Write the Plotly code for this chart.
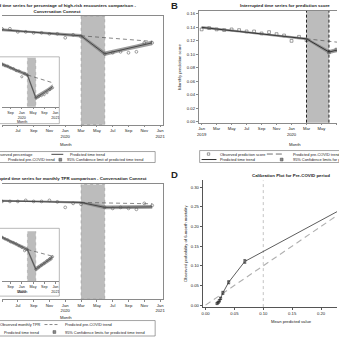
import plotly.graph_objects as go

W = H = 339
FONT = "Liberation Sans"
TXT = "#222222"
FRAME = "#8a8a8a"

# ---------------- data ----------------
# month index: 0 = Jan 2019 ... 23 = Dec 2020
obs_months = list(range(0, 15)) + [17, 18, 19, 20, 21, 22, 23]
pre_months = list(range(0, 15))
post_months = [14, 17, 18, 19, 20, 21, 22, 23]
cf_months = list(range(14, 24))

# A: percentage of high-risk encounters (%)
a_obs = [10.90, 10.70, 10.80, 10.60, 10.67, 10.67, 10.33, 10.33, 10.22, 10.22, 10.11,
         10.11, 9.67, 10.00, 9.78, 7.89, 8.00, 8.11, 8.00, 8.11, 9.11, 9.11]
a_pre_trend = [10.83, 10.76, 10.70, 10.63, 10.56, 10.50, 10.43, 10.36, 10.29, 10.23,
               10.16, 10.09, 10.02, 9.96, 9.89]
a_post_trend = [9.89, 7.89, 8.09, 8.30, 8.50, 8.70, 8.91, 9.11]
a_pre_ci = [0.22, 0.20, 0.18, 0.16, 0.15, 0.14, 0.13, 0.13, 0.13, 0.13, 0.14, 0.15,
            0.16, 0.18, 0.20]
a_post_ci = [0.20, 0.26, 0.24, 0.22, 0.21, 0.22, 0.24, 0.26]
a_cf = [9.89, 9.82, 9.75, 9.68, 9.61, 9.54, 9.47, 9.41, 9.34, 9.27]

# A inset: comparison group (%)
ai_obs = [11.00, 10.85, 10.82, 10.66, 10.62, 10.43, 10.35, 10.32, 10.18, 10.12, 9.95,
          9.93, 9.45, 9.72, 9.58, 7.73, 7.82, 7.90, 7.98, 8.14, 8.39, 8.55]
ai_pre_trend = [10.99, 10.89, 10.79, 10.69, 10.59, 10.49, 10.40, 10.30, 10.20, 10.10,
                10.00, 9.90, 9.80, 9.70, 9.60]
ai_post_trend = [9.60, 7.73, 7.88, 8.03, 8.18, 8.33, 8.48, 8.63]
ai_pre_ci = [0.16, 0.15, 0.14, 0.13, 0.12, 0.11, 0.10, 0.10, 0.10, 0.10, 0.11, 0.12,
             0.13, 0.14, 0.15]
ai_post_ci = [0.15, 0.20, 0.18, 0.16, 0.15, 0.16, 0.18, 0.20]
ai_cf = [9.60, 9.53, 9.46, 9.39, 9.32, 9.24, 9.17, 9.10, 9.03, 8.96]

# B: monthly prediction score
b_obs = [0.137, 0.139, 0.137, 0.136, 0.137, 0.136, 0.134, 0.134, 0.131, 0.133, 0.130,
         0.128, 0.120, 0.126, 0.121, 0.103, 0.107, 0.108, 0.112, 0.112, 0.117, 0.118]
b_pre_trend = [0.1400, 0.1388, 0.1376, 0.1364, 0.1351, 0.1339, 0.1327, 0.1315, 0.1303,
               0.1291, 0.1279, 0.1267, 0.1254, 0.1242, 0.1230]
b_post_trend = [0.1230, 0.1035, 0.1060, 0.1085, 0.1110, 0.1135, 0.1160, 0.1185]
b_pre_ci = [0.0022, 0.0020, 0.0018, 0.0016, 0.0015, 0.0014, 0.0013, 0.0013, 0.0013,
            0.0013, 0.0014, 0.0015, 0.0016, 0.0018, 0.0020]
b_post_ci = [0.0020, 0.0030, 0.0028, 0.0026, 0.0026, 0.0028, 0.0030, 0.0032]
b_cf = [0.1230, 0.1218, 0.1206, 0.1194, 0.1182, 0.1169, 0.1157, 0.1145, 0.1133, 0.1121]
b_ticks = [0.00, 0.02, 0.04, 0.06, 0.08, 0.10, 0.12, 0.14, 0.16]

# C: monthly TPR
c_obs = [0.860, 0.870, 0.855, 0.863, 0.852, 0.852, 0.852, 0.861, 0.852, 0.852, 0.861,
         0.848, 0.800, 0.835, 0.826, 0.800, 0.791, 0.800, 0.791, 0.783, 0.835, 0.817]
c_pre_trend = [0.862, 0.861, 0.860, 0.858, 0.857, 0.856, 0.854, 0.853, 0.852, 0.850,
               0.849, 0.848, 0.846, 0.845, 0.843]
c_post_trend = [0.843, 0.800, 0.801, 0.801, 0.802, 0.803, 0.803, 0.804]
c_pre_ci = [0.012, 0.011, 0.010, 0.009, 0.008, 0.008, 0.007, 0.007, 0.007, 0.007, 0.008,
            0.008, 0.009, 0.010, 0.011]
c_post_ci = [0.011, 0.016, 0.015, 0.014, 0.013, 0.014, 0.015, 0.016]
c_cf = [0.843, 0.842, 0.841, 0.839, 0.838, 0.837, 0.835, 0.834, 0.833, 0.831]

# C inset: comparison group TPR
ci_obs = [0.905, 0.899, 0.890, 0.886, 0.880, 0.876, 0.870, 0.866, 0.858, 0.855, 0.850,
          0.842, 0.836, 0.822, 0.827, 0.748, 0.756, 0.764, 0.772, 0.782, 0.790, 0.798]
ci_pre_trend = [0.904, 0.898, 0.893, 0.887, 0.882, 0.876, 0.871, 0.865, 0.860, 0.854,
                0.849, 0.843, 0.838, 0.832, 0.827]
ci_post_trend = [0.827, 0.748, 0.756, 0.764, 0.772, 0.780, 0.788, 0.796]
ci_pre_ci = [0.008, 0.007, 0.006, 0.006, 0.005, 0.005, 0.005, 0.005, 0.005, 0.005,
             0.005, 0.006, 0.006, 0.007, 0.008]
ci_post_ci = [0.008, 0.010, 0.009, 0.008, 0.008, 0.008, 0.009, 0.010]
ci_cf = [0.827, 0.824, 0.821, 0.818, 0.815, 0.812, 0.809, 0.806, 0.803, 0.800]

# D: calibration (mean predicted vs observed 6-month mortality)
d_pred = [0.020, 0.022, 0.024, 0.026, 0.030, 0.040, 0.068, 0.290]
d_obs = [0.004, 0.007, 0.011, 0.017, 0.031, 0.058, 0.111, 0.287]
d_err = [0.002, 0.002, 0.003, 0.003, 0.004, 0.004, 0.005, 0.012]
d_ticks_x = [0.00, 0.05, 0.10, 0.15, 0.20]
d_ticks_y = [0.00, 0.05, 0.10, 0.15, 0.20, 0.25, 0.30]

# month tick labels
main_tickvals = [4, 6, 8, 10, 12, 14, 16, 18, 20, 22, 24]
main_ticktext = ["May", "Jul", "Sep", "Nov", "Jan<br>2020", "Mar", "May", "Jul", "Sep",
                 "Nov", "Jan<br>2021"]
inset_tickvals = [4, 8, 12, 16, 20, 24]
inset_ticktext = ["May", "Sep", "Jan<br>2020", "May", "Sep", "Jan<br>2021"]
b_tickvals = [0, 2, 4, 6, 8, 10, 12, 14, 16, 18]
b_ticktext = ["Jan<br>2019", "Mar", "May", "Jul", "Sep", "Nov", "Jan<br>2020", "Mar",
              "May", "Jul"]


def px(x):
    return x / W


def py(y):
    return 1 - y / H


fig = go.Figure()
SHADE = "#bcbcbc"


def its(xa, ya, obs, pre, post, pre_ci, post_ci, cf, symbol, msize, line_w,
        shade_trace=False):
    if shade_trace:
        # transition period band drawn as a filled area on the inset's own axes
        fig.add_trace(go.Scatter(x=[14, 17, 17, 14, 14], y=[-1e3, -1e3, 1e3, 1e3, -1e3],
                                 fill="toself", fillcolor=SHADE, mode="lines",
                                 line=dict(width=0.4, color="#8a8a8a", dash="dot"),
                                 xaxis=xa, yaxis=ya, hoverinfo="skip"))
    tx = pre_months + post_months[1:]
    ty = pre + post[1:]
    hw = pre_ci + post_ci[1:]
    up = [t + h for t, h in zip(ty, hw)]
    lo = [t - h for t, h in zip(ty, hw)]
    fig.add_trace(go.Scatter(x=tx + tx[::-1], y=up + lo[::-1], fill="toself",
                             fillcolor="rgba(125,125,125,0.75)", line=dict(width=0),
                             mode="lines", xaxis=xa, yaxis=ya, hoverinfo="skip"))
    fig.add_trace(go.Scatter(x=cf_months, y=cf, mode="lines",
                             line=dict(color="#555555", width=0.7, dash="4px,3px"),
                             xaxis=xa, yaxis=ya))
    fig.add_trace(go.Scatter(x=tx, y=ty, mode="lines",
                             line=dict(color="#333333", width=line_w),
                             xaxis=xa, yaxis=ya))
    fig.add_trace(go.Scatter(x=obs_months, y=obs, mode="markers",
                             marker=dict(symbol=symbol, size=msize, color="#555555",
                                         line=dict(width=0.55, color="#555555")),
                             xaxis=xa, yaxis=ya))


its("x", "y", a_obs, a_pre_trend, a_post_trend, a_pre_ci, a_post_ci, a_cf,
    "circle-open", 2.8, 0.8)
its("x2", "y2", ai_obs, ai_pre_trend, ai_post_trend, ai_pre_ci, ai_post_ci, ai_cf,
    "circle-open", 2.2, 0.6, shade_trace=True)
its("x3", "y3", b_obs, b_pre_trend, b_post_trend, b_pre_ci, b_post_ci, b_cf,
    "square-open", 2.8, 1.0)
its("x4", "y4", c_obs, c_pre_trend, c_post_trend, c_pre_ci, c_post_ci, c_cf,
    "circle-open", 2.8, 0.8)
its("x5", "y5", ci_obs, ci_pre_trend, ci_post_trend, ci_pre_ci, ci_post_ci, ci_cf,
    "circle-open", 2.2, 0.6, shade_trace=True)

# D: reference lines and calibration curve
fig.add_trace(go.Scatter(x=[0, 0.30], y=[0, 0.30], mode="lines",
                         line=dict(color="#b0b0b0", width=1.1, dash="6px,4px"),
                         xaxis="x6", yaxis="y6"))
fig.add_trace(go.Scatter(x=d_pred, y=d_obs, mode="lines+markers",
                         line=dict(color="#333333", width=0.8),
                         marker=dict(symbol="square-open", size=2.2, color="#333333",
                                     line=dict(width=0.6)),
                         error_y=dict(type="data", array=d_err, color="#333333",
                                      thickness=0.6, width=1.5),
                         xaxis="x6", yaxis="y6"))

tickfont = dict(family=FONT, size=4.2, color=TXT)
insetfont = dict(family=FONT, size=3.7, color=TXT)


def time_axis(domain, rng, vals, text, font, mirror):
    return dict(domain=domain, range=rng, tickmode="array", tickvals=vals,
                ticktext=text, tickfont=font, showline=True, mirror=mirror,
                linecolor=FRAME, linewidth=0.6, ticks="outside", ticklen=2,
                tickwidth=0.5, tickcolor=FRAME, showgrid=False, zeroline=False,
                tickangle=0)


def hidden_y(domain, rng, anchor, showline):
    return dict(domain=domain, range=rng, anchor=anchor, side="right",
                showline=showline, linecolor=FRAME, linewidth=0.6,
                showticklabels=False, ticks="", showgrid=False, zeroline=False)


layout = dict(
    width=W, height=H, margin=dict(l=0, r=0, t=0, b=0),
    paper_bgcolor="white", plot_bgcolor="white", showlegend=False,
    font=dict(family=FONT, color=TXT),
    xaxis=dict(time_axis([0, px(163)], [4, 24.375], main_tickvals, main_ticktext,
                         tickfont, True), anchor="y"),
    yaxis=hidden_y([py(125), py(16)], [0, 12.1], "x", True),
    xaxis2=dict(time_axis([0, px(58)], [4.93, 25.4], inset_tickvals, inset_ticktext,
                          insetfont, False), anchor="y2"),
    yaxis2=hidden_y([py(107), py(58)], [7.0, 11.0], "x2", False),
    xaxis3=dict(time_axis([px(199), 1], [-0.4, 18.07], b_tickvals, b_ticktext,
                          tickfont, True), anchor="y3"),
    yaxis3=dict(domain=[py(123), py(11)], range=[-0.0015, 0.1644], anchor="x3",
                tickmode="array", tickvals=b_ticks, tickformat=".2f", tickfont=tickfont,
                showline=True, linecolor=FRAME, linewidth=0.6, ticks="outside",
                ticklen=2, tickwidth=0.5, tickcolor=FRAME, showgrid=False,
                zeroline=False),
    xaxis4=dict(time_axis([0, px(163)], [4, 24.375], main_tickvals, main_ticktext,
                          tickfont, True), anchor="y4"),
    yaxis4=hidden_y([py(300), py(185)], [0, 1.0], "x4", True),
    xaxis5=dict(time_axis([0, px(58)], [4.93, 25.4], inset_tickvals, inset_ticktext,
                          insetfont, False), anchor="y5"),
    yaxis5=hidden_y([py(282), py(232)], [0.70, 0.90], "x5", False),
    xaxis6=dict(domain=[px(203), 1], range=[-0.0051, 0.2277], anchor="y6",
                tickmode="array", tickvals=d_ticks_x, tickformat=".2f",
                tickfont=tickfont, showline=True, linecolor="#555555", linewidth=0.6,
                ticks="outside", ticklen=2, tickwidth=0.5, tickcolor="#555555",
                showgrid=False, zeroline=False),
    yaxis6=dict(domain=[py(308), py(181)], range=[-0.0051, 0.317], anchor="x6",
                tickmode="array", tickvals=d_ticks_y, tickformat=".2f",
                tickfont=tickfont, showline=True, linecolor="#555555", linewidth=0.6,
                ticks="outside", ticklen=2, tickwidth=0.5, tickcolor="#555555",
                showgrid=False, zeroline=False),
)
fig.update_layout(**layout)

shapes = []
# COVID transition period (Mar-Jun 2020) on the main panels
for xr, yr in [("x", "y"), ("x4", "y4")]:
    shapes.append(dict(type="rect", xref=xr, yref=yr + " domain", x0=14, x1=17,
                       y0=0, y1=1, fillcolor=SHADE, line=dict(width=0.5,
                       color="#8a8a8a", dash="dot"), layer="below"))
shapes.append(dict(type="rect", xref="x3", yref="y3 domain", x0=14, x1=17, y0=0, y1=1,
                   fillcolor=SHADE, line=dict(width=0), layer="below"))
for xv in [14, 17]:
    shapes.append(dict(type="line", xref="x3", yref="y3 domain", x0=xv, x1=xv, y0=0,
                       y1=1, line=dict(color="#111111", width=0.9, dash="3px,2px")))
# D: threshold line
shapes.append(dict(type="line", xref="x6", yref="y6 domain", x0=0.10, x1=0.10, y0=0,
                   y1=1, line=dict(color="#b5b5b5", width=0.8, dash="dot"),
                   layer="below"))
# inset boxes
for y0, y1 in [(57, 124), (229, 297)]:
    shapes.append(dict(type="rect", xref="paper", yref="paper", x0=px(-5), x1=px(58),
                       y0=py(y1), y1=py(y0), line=dict(color=FRAME, width=0.6),
                       fillcolor="rgba(0,0,0,0)", layer="above"))

annotations = []


def text(x, y, s, size=4.0, anchor="left", angle=0, color=TXT):
    annotations.append(dict(x=px(x), y=py(y), xref="paper", yref="paper", text=s,
                            showarrow=False, xanchor=anchor, yanchor="middle",
                            textangle=angle, borderpad=0,
                            font=dict(family=FONT, size=size, color=color)))


def leg_line(x0, x1, y, dash="solid", width=0.9, color="#333333"):
    shapes.append(dict(type="line", xref="paper", yref="paper", x0=px(x0), x1=px(x1),
                       y0=py(y), y1=py(y), line=dict(color=color, width=width,
                                                      dash=dash)))


def leg_marker(x, y, kind):
    shapes.append(dict(type=kind, xref="paper", yref="paper", x0=px(x - 1.2),
                       x1=px(x + 1.2), y0=py(y + 1.2), y1=py(y - 1.2),
                       line=dict(color="#555555", width=0.6)))


def leg_band(x, y):
    shapes.append(dict(type="rect", xref="paper", yref="paper", x0=px(x - 1.4),
                       x1=px(x + 1.4), y0=py(y + 1.4), y1=py(y - 1.4),
                       fillcolor="#8c8c8c", line=dict(color="#444444", width=0.5)))


def leg_box(x0, x1, y0, y1):
    shapes.append(dict(type="rect", xref="paper", yref="paper", x0=px(x0), x1=px(x1),
                       y0=py(y1), y1=py(y0), line=dict(color="#666666", width=0.6),
                       fillcolor="rgba(0,0,0,0)"))


# panel letters and titles
text(175, 5.5, "<b>B</b>", size=9.5, anchor="center")
text(175, 175.5, "<b>D</b>", size=9.5, anchor="center")
text(55.5, 8.3, "<b>Interrupted time series for percentage of high-risk encounters "
     "comparison -<br>Conversation Connect</b>", size=4.4, anchor="center")
text(240, 6, "<b>Interrupted time series for prediction score</b>", size=4.4)
text(65.5, 179, "<b>Interrupted time series for monthly TPR comparison - "
     "Conversation Connect</b>", size=4.4, anchor="center")
text(252, 176.5, "<b>Calibration Plot for Pre-COVID period</b>", size=4.4)

# axis titles
text(65, 145, "Month", size=4.2, anchor="center")
text(65, 318, "Month", size=4.2, anchor="center")
text(297, 145, "Month", size=4.2, anchor="center")
text(180, 67, "Monthly prediction score", size=4.2, anchor="center", angle=-90)
text(293, 322, "Mean predicted value", size=4.2, anchor="center")
text(185, 244, "Observed probability of 6-month mortality", size=4.2,
     anchor="center", angle=-90)
text(20, 122, "Month", size=3.7, anchor="center")
text(20, 293, "Month", size=3.7, anchor="center")

# legend A
leg_box(-40, 155, 152, 163)
leg_marker(-12, 154.8, "circle")
text(-8, 154.8, "Observed percentage", size=3.9)
leg_line(50, 62, 154.8)
text(68, 154.8, "Predicted time trend", size=3.9)
leg_line(-30, -18, 160.2, dash="3px,2px", width=0.7, color="#555555")
text(55, 160.2, "Predicted pre-COVID trend", size=3.9, anchor="right")
leg_band(59, 160.2)
text(65, 160.2, "95% Confidence limit of predicted time trend", size=3.9)

# legend B
leg_box(200, 345, 151, 163)
leg_marker(209, 154.5, "rect")
text(220, 154.5, "Observed prediction score", size=3.9)
leg_line(268, 285, 154.5, dash="6px,3px", width=0.7, color="#333333")
text(293, 154.5, "Predicted pre-COVID trend", size=3.9)
leg_line(202, 217, 160, width=1.0)
text(220, 160, "Predicted time trend", size=3.9)
leg_band(283, 160)
text(293, 160, "95% Confidence limits for predicted time trend", size=3.9)

# legend C
leg_box(-40, 155, 321.5, 337)
leg_marker(-10, 325.5, "circle")
text(40, 325.5, "Observed monthly TPR", size=3.9, anchor="right")
leg_line(43, 58, 325.5, dash="3px,2px", width=0.7, color="#555555")
text(63, 325.5, "Predicted pre-COVID trend", size=3.9)
leg_line(-30, -18, 333, width=0.9)
text(38, 333, "Predicted time trend", size=3.9, anchor="right")
leg_band(53, 333)
text(63, 333, "95% Confidence limits for predicted time trend", size=3.9)

fig.update_layout(shapes=shapes, annotations=annotations)
fig.write_html("out.html")
